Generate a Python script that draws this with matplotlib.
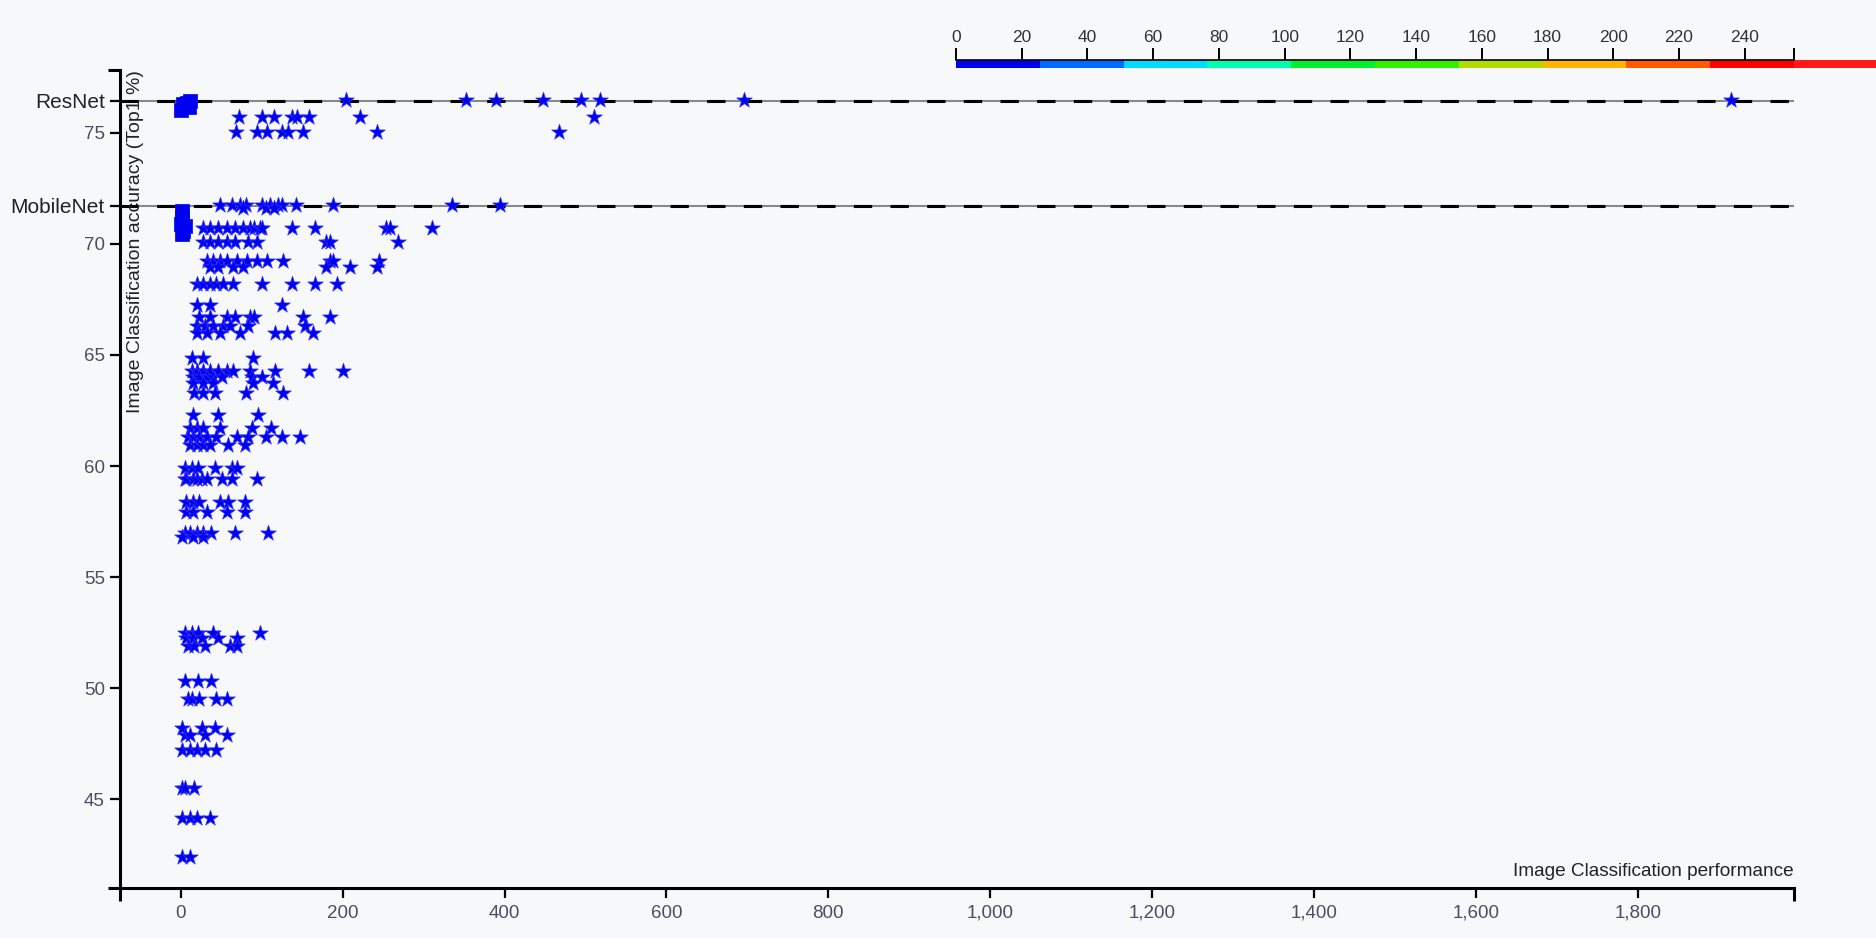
import matplotlib
matplotlib.use("Agg")
import matplotlib.pyplot as plt
import numpy as np

plt.rcParams['font.family'] = ['Liberation Sans', 'DejaVu Sans']

# reference accuracies (Top1 %)
resnet_ref = 76.45
mobilenet_ref = 71.72

# ResNet-like models (stars): accuracy rows and the performance values in each row
resnet_rows = [
    (76.5, [204, 353, 390, 447, 494, 518, 696, 1915]),
    (75.7, [72, 101, 115, 138, 144, 159, 221, 510]),
    (75.05, [68, 94, 106, 125, 133, 151, 242, 467]),
]

# MobileNet-like models (stars)
mobilenet_rows = [
    (71.75, [48, 63, 73, 81, 100, 110, 120, 125, 143, 188, 335, 394]),
    (71.6, [77, 105, 115]),
    (70.72, [28, 36, 46, 57, 67, 77, 85, 91, 98, 101, 138, 166, 254, 258, 311]),
    (70.1, [27, 36, 46, 57, 67, 83, 94, 180, 184, 268]),
    (69.25, [32, 40, 48, 57, 69, 82, 94, 106, 126, 184, 188, 245]),
    (68.95, [36, 46, 64, 77, 180, 209, 242]),
    (68.2, [20, 27, 36, 44, 52, 64, 101, 138, 166, 193]),
    (67.25, [20, 36, 125]),
    (66.7, [23, 36, 57, 67, 85, 91, 151, 184]),
    (66.3, [20, 30, 40, 52, 61, 83, 153]),
    (66.0, [20, 32, 48, 73, 116, 131, 163]),
    (64.85, [14, 27, 89]),
    (64.3, [14, 20, 27, 36, 46, 57, 64, 85, 116, 159, 200]),
    (64.0, [15, 23, 32, 40, 51, 88, 100]),
    (63.75, [15, 27, 40, 89, 114]),
    (63.3, [17, 27, 42, 81, 126]),
    (62.3, [15, 46, 95]),
    (61.7, [11, 20, 27, 48, 88, 112]),
    (61.3, [9, 15, 23, 32, 44, 70, 83, 105, 125, 147]),
    (60.95, [11, 20, 27, 36, 58, 79]),
    (59.9, [5, 14, 21, 42, 63, 69]),
    (59.4, [5, 7, 15, 20, 26, 33, 51, 63, 94]),
    (58.4, [7, 15, 23, 48, 58, 80]),
    (57.95, [7, 15, 32, 57, 79]),
    (57.0, [5, 11, 20, 27, 38, 67, 108]),
    (56.8, [1, 15, 27]),
    (52.5, [5, 14, 21, 40, 98]),
    (52.25, [7, 15, 26, 46, 69]),
    (51.9, [9, 17, 30, 61, 69]),
    (50.3, [5, 21, 38]),
    (49.5, [9, 14, 23, 44, 57]),
    (48.2, [2, 26, 42]),
    (47.9, [5, 11, 30, 57]),
    (47.2, [2, 11, 20, 30, 44]),
    (45.5, [1, 5, 17]),
    (44.15, [2, 11, 20, 36]),
    (42.4, [1, 11]),
]

# baseline models (squares)
square_perf = [0, 3, 8, 12, 10, 1, 2, 0, 3, 1, 5]
square_acc = [76.05, 76.3, 76.35, 76.45, 76.15, 71.5, 71.2, 70.9, 70.6, 70.45, 70.8]

xticks = [0, 200, 400, 600, 800, 1000, 1200, 1400, 1600, 1800]
yticks = [45, 50, 55, 60, 65, 70, 75]

# colour scale legend
scale_edges = [0, 25.5, 51, 76.5, 102, 127.5, 153, 178.5, 204, 229.5, 255, 280.5]
scale_colors = ['#0000ee', '#006cff', '#00dcff', '#00ffb0', '#00f030', '#33f000',
                '#b0dc00', '#ffb400', '#ff5a00', '#ff0000', '#ff1a1a']
scale_ticks = [0, 20, 40, 60, 80, 100, 120, 140, 160, 180, 200, 220, 240]

star_perf = []
star_acc = []
for acc, perfs in resnet_rows + mobilenet_rows:
    star_perf += perfs
    star_acc += [acc] * len(perfs)

bg = '#f7f8fa'
fig = plt.figure(figsize=(18.76, 9.38), dpi=100, facecolor=bg)
ax = fig.add_axes([120/1876, 50/938, (1794-120)/1876, (888-70)/938])
ax.set_facecolor(bg)

xmin, xmax = -75, 1993
ymin, ymax = 41.0, 77.83
ax.set_xlim(xmin, xmax)
ax.set_ylim(ymin, ymax)

ax.axhline(resnet_ref, color='#888888', lw=1.5, zorder=1)
ax.axhline(resnet_ref, color='black', lw=2.2, ls=(0, (6, 6)), zorder=1.5)
ax.axhline(mobilenet_ref, color='#888888', lw=1.5, zorder=1)
ax.axhline(mobilenet_ref, color='black', lw=2.2, ls=(0, (6, 6)), zorder=1.5)

ax.scatter(square_perf, square_acc, marker='s', s=110, color='#0000f0',
           edgecolors='#0000f0', linewidths=0.5, zorder=3, clip_on=False)
ax.scatter(star_perf, star_acc, marker='*', s=140, color='#0000f0',
           edgecolors='#3030ff', linewidths=0.5, zorder=3, clip_on=False)

for s in ['top', 'right']:
    ax.spines[s].set_visible(False)
for s in ['left', 'bottom']:
    ax.spines[s].set_linewidth(2.2)
    ax.spines[s].set_color('black')

ax.set_xticks(xticks)
ax.set_xticklabels([f'{v:,}' for v in xticks])
ax.set_yticks(yticks + [mobilenet_ref, resnet_ref])
ax.set_yticklabels([str(v) for v in yticks] + ['MobileNet', 'ResNet'])
ax.tick_params(which='major', length=7, width=1.6, color='black',
               labelcolor='#4d4d66', labelsize=13.5, pad=4)
ax.tick_params(axis='x', pad=5)
for lab in ax.get_yticklabels()[-2:]:
    lab.set_color('#222222')
    lab.set_fontsize(15)

ax.set_xticks([xmin, xmax], minor=True)
ax.set_yticks([ymin, ymax], minor=True)
ax.tick_params(which='minor', length=9, width=2.2, color='black')

ax.annotate('Image Classification accuracy (Top1 %)', xy=(0, 1), xycoords='axes fraction',
            xytext=(5, 0), textcoords='offset points', rotation=90,
            ha='left', va='top', fontsize=14, color='#222222')
ax.annotate('Image Classification performance', xy=(1, 0), xycoords='axes fraction',
            xytext=(0, 6), textcoords='offset points',
            ha='right', va='bottom', fontsize=13.7, color='#222222')

# colour scale bar at the top right
cax = fig.add_axes([956/1876, 1 - 68/938, (1876-956)/1876, 8/938])
cax.set_facecolor('none')
cax.bar(scale_edges[:-1], 1, width=np.diff(scale_edges), align='edge',
        color=scale_colors, edgecolor='none')
cax.set_xlim(0, (1876-956)/(1794-956)*255)
cax.set_ylim(0, 1)
for s in ['bottom', 'left', 'right']:
    cax.spines[s].set_visible(False)
cax.spines['top'].set_bounds(0, 255)
cax.spines['top'].set_linewidth(1.2)
cax.xaxis.tick_top()
cax.set_xticks(scale_ticks + [255])
cax.set_xticklabels([str(v) for v in scale_ticks] + [''])
cax.tick_params(axis='x', length=9, width=1.4, color='black', labelcolor='#333333',
                labelsize=12.5, pad=2)
cax.set_yticks([])

fig.savefig('out.png', dpi=100, facecolor=bg)
